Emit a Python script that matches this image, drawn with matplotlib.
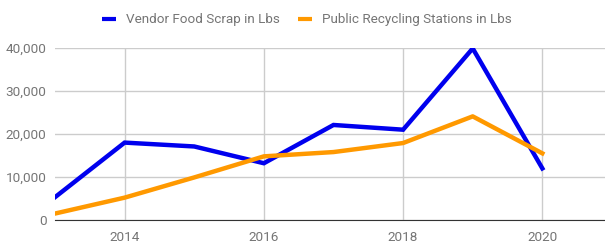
import matplotlib
matplotlib.use("Agg")
import matplotlib.pyplot as plt
from matplotlib.ticker import FuncFormatter

years = [2013, 2014, 2015, 2016, 2017, 2018, 2019, 2020]
vendor = [5300, 18000, 17100, 13200, 22100, 21000, 39900, 12000]
public = [1500, 5200, 9900, 14800, 15800, 17900, 24100, 15500]
xticks = [2014, 2016, 2018, 2020]
yticks = [0, 10000, 20000, 30000, 40000]

plt.rcParams['font.family'] = ['Roboto', 'DejaVu Sans']

fig = plt.figure(figsize=(6.05, 2.47), dpi=100)
ax = fig.add_axes([55/605, 27/247, 550/605, 172/247])
ax.plot(years, vendor, color='#0000ee', lw=3.2, label='Vendor Food Scrap in Lbs', solid_joinstyle='miter', zorder=3)
ax.plot(years, public, color='#ff9900', lw=3.2, label='Public Recycling Stations in Lbs', zorder=3)
ax.set_xlim(2013, 2020.9)
ax.set_ylim(0, 40000)
ax.set_xticks(xticks)
ax.set_yticks(yticks)
ax.yaxis.set_major_formatter(FuncFormatter(lambda v, p: f"{int(v):,}"))
ax.grid(True, color='#cccccc', lw=1)
ax.set_axisbelow(True)
for s in ['top', 'right', 'left']:
    ax.spines[s].set_visible(False)
ax.spines['bottom'].set_color('#333333')
ax.tick_params(length=0, labelsize=9.7, colors='#757575', pad=6)
ax.tick_params(axis='x', pad=8)
leg = fig.legend(loc='center left', bbox_to_anchor=(96.6/605, 1 - 20/247), ncol=2, frameon=False,
                 borderaxespad=0, borderpad=0.4,
                 fontsize=9.7, handlelength=1.04, handletextpad=0.74, columnspacing=1.34)
for t in leg.get_texts():
    t.set_color('#757575')
for h in leg.get_lines():
    h.set_linewidth(3)
    h.set_solid_capstyle('butt')
fig.savefig('out.png', dpi=100)
